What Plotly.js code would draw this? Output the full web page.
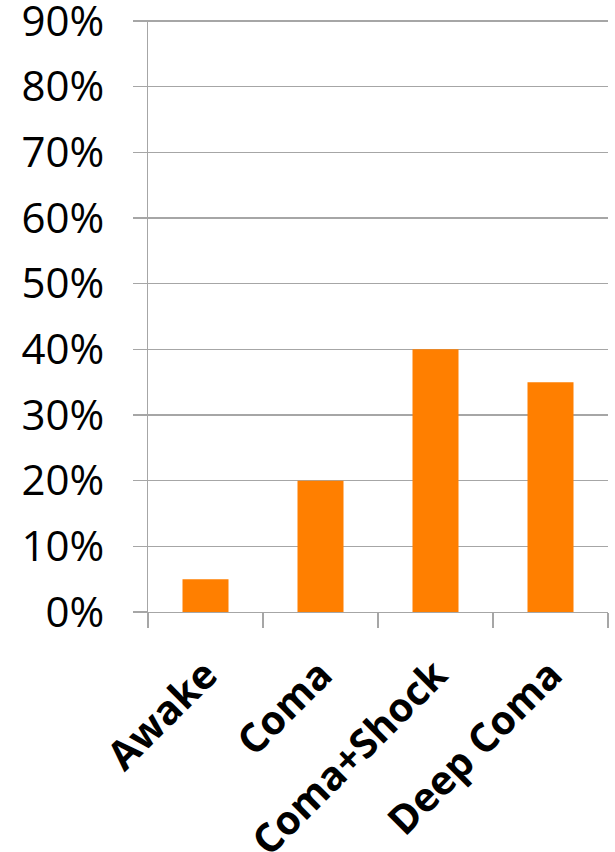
<!DOCTYPE html>
<html>
<head>
<meta charset="utf-8">
<script src="https://cdn.plot.ly/plotly-3.0.1.min.js"></script>
<style>html,body{margin:0;padding:0;background:#fff;}#chart{width:615px;height:852px;}</style>
</head>
<body>
<div id="chart"></div>
<script>
const categories = ["Awake", "Coma", "Coma+Shock", "Deep Coma"];
const values = [0.05, 0.20, 0.40, 0.35];
const yTickVals = [0, 0.1, 0.2, 0.3, 0.4, 0.5, 0.6, 0.7, 0.8, 0.9];

const gridColor = "#a6a6a6";

Plotly.newPlot("chart", [{
  type: "bar",
  x: categories,
  y: values,
  width: 0.4,
  marker: {color: "#ff7f00", line: {width: 0}},
  hoverinfo: "none"
}], {
  width: 615,
  height: 852,
  margin: {l: 148, r: 7, t: 20, b: 240},
  paper_bgcolor: "#fff",
  plot_bgcolor: "#fff",
  showlegend: false,
  xaxis: {
    type: "category",
    tickson: "boundaries",
    ticks: "outside",
    ticklen: 15,
    tickwidth: 1.3,
    tickcolor: gridColor,
    showline: true,
    linecolor: gridColor,
    linewidth: 1.3,
    showgrid: false,
    tickangle: -45,
    ticklabelstandoff: 22,
    tickfont: {family: "Open Sans", size: 40, color: "#000", weight: "bold"}
  },
  yaxis: {
    range: [0, 0.9016],
    tickvals: yTickVals,
    tickformat: ".0%",
    ticks: "outside",
    ticklen: 14,
    tickwidth: 1.3,
    tickcolor: gridColor,
    showline: true,
    linecolor: gridColor,
    linewidth: 1.3,
    showgrid: true,
    gridcolor: gridColor,
    gridwidth: 1.3,
    zeroline: false,
    ticklabelstandoff: 20,
    ticklabeloverflow: "allow",
    tickfont: {family: "Open Sans", size: 42, color: "#000"}
  }
}, {staticPlot: true});
</script>
</body>
</html>
